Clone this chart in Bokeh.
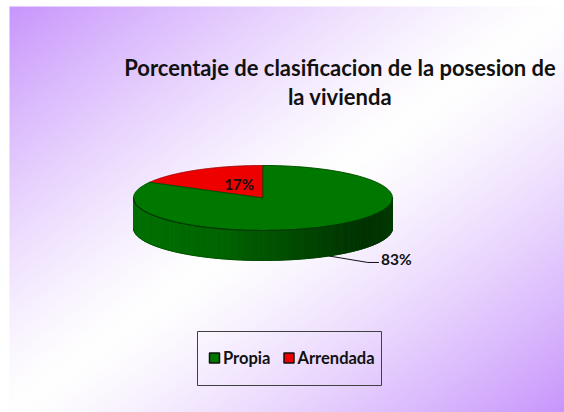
import numpy as np
from bokeh.plotting import figure
from bokeh.models import Range1d
from bokeh.core.properties import value
from bokeh.embed import file_html
from bokeh.resources import INLINE

# ---- data ----
title_lines = ["Porcentaje de clasificacion de la posesion de", "la vivienda"]
categories = ["Propia", "Arrendada"]
percentages = [83, 17]
colors = ["#007800", "#ee0000"]
edge_colors = ["#005000", "#a00000"]

W, H = 564, 412
FONT = value("Lato")

p = figure(width=W, height=H, output_backend="svg", toolbar_location=None,
           x_range=Range1d(0, W), y_range=Range1d(0, H), min_border=0)
p.axis.visible = False
p.grid.visible = False
p.outline_line_color = None
p.background_fill_color = None
p.border_fill_color = "white"

def Y(img_y):
    return H - img_y

# ---- diagonal gradient background (chart area) ----
bx0, by0 = 9, 6
BW, BH = W - bx0, H - by0
xs = np.linspace(0, 1, BW)
ys = np.linspace(0, 1, BH)
GX, GY = np.meshgrid(xs, ys)  # row 0 at bottom
t = (GX + (1 - GY)) / 2
wgt = np.clip(np.abs(t - 0.5) / 0.5, 0, 1) ** 1.3
purple = np.array([200, 150, 252])
r = (255 - wgt * (255 - purple[0])).astype(np.uint32)
g = (255 - wgt * (255 - purple[1])).astype(np.uint32)
b = (255 - wgt * (255 - purple[2])).astype(np.uint32)
img = (255 << 24) | (b << 16) | (g << 8) | r
p.image_rgba(image=[img.astype(np.uint32)], x=bx0, y=0, dw=BW, dh=BH)

# ---- 3D pie ----
cx, cy, ra, rb, depth = 262.5, Y(197.5), 129.5, 32.5, 30.0
total = sum(percentages)
order = [1, 0]  # counterclockwise from top: Arrendada, then Propia
start = 90.0
angles = {}
for i in order:
    span = percentages[i] / total * 360.0
    angles[i] = (start, start + span)
    start += span

def ell(th):
    th = np.radians(th)
    return cx + ra * np.cos(th), cy + rb * np.sin(th)

base = np.array([0, 122, 0])
def shade(u):
    f = np.interp(u, [-1, -0.3, 0.4, 0.8, 1.0], [0.92, 0.82, 0.55, 0.40, 0.48])
    c = (base * f).astype(int)
    return "#%02x%02x%02x" % tuple(c)

wall_x, wall_y, wall_c = [], [], []
for i in order:
    a0, a1 = angles[i]
    ths = np.linspace(a0, a1, 300)
    for k in range(len(ths) - 1):
        m = (ths[k] + ths[k + 1]) / 2
        if np.sin(np.radians(m)) >= 0:
            continue
        x0, y0 = ell(ths[k]); x1, y1 = ell(ths[k + 1])
        wall_x.append([x0, x1, x1, x0])
        wall_y.append([y0, y1, y1 - depth, y0 - depth])
        wall_c.append(shade(np.cos(np.radians(m))))
p.patches(wall_x, wall_y, fill_color=wall_c, line_color=wall_c, line_width=1)

thb = np.linspace(180, 360, 200)
p.line(cx + ra * np.cos(np.radians(thb)), cy + rb * np.sin(np.radians(thb)) - depth,
       line_color="#004000", line_width=1, line_alpha=0.5)

for i in order:
    a0, a1 = angles[i]
    ths = np.linspace(a0, a1, 200)
    px = [cx] + list(cx + ra * np.cos(np.radians(ths))) + [cx]
    py = [cy] + list(cy + rb * np.sin(np.radians(ths))) + [cy]
    p.patch(px, py, fill_color=colors[i], line_color=edge_colors[i], line_width=1)

ths = np.linspace(180, 360, 200)
p.line(cx + ra * np.cos(np.radians(ths)), cy + rb * np.sin(np.radians(ths)),
       line_color="#003800", line_width=1.2)

# ---- data labels ----
a0, a1 = angles[1]
mid = np.radians((a0 + a1) / 2)
p.text(x=[cx + ra * 0.36 * np.cos(mid)], y=[cy + rb * 0.5 * np.sin(mid)],
       text=[f"{percentages[1]}%"], text_font=FONT, text_font_style="bold",
       text_font_size="15px", text_color="#111111", text_align="center", text_baseline="middle")
a0, a1 = angles[0]
mid = np.radians((a0 + a1) / 2)
lx0 = cx + ra * np.cos(mid); ly0 = cy + rb * np.sin(mid) - depth
lx1, ly1 = lx0 + 39, ly0 - 6.5
lx2 = lx1 + 11
p.line([lx0, lx1, lx2], [ly0, ly1, ly1], line_color="#111111", line_width=1)
p.text(x=[lx2 + 2], y=[ly1 + 3.5], text=[f"{percentages[0]}%"], text_font=FONT,
       text_font_style="bold", text_font_size="15.5px", text_color="#111111",
       text_align="left", text_baseline="middle")

# ---- title ----
p.text(x=[339.5, 339.5], y=[Y(67), Y(96)], text=title_lines, text_font=FONT,
       text_font_style="bold", text_font_size="22px", text_color="#111111",
       text_align="center", text_baseline="alphabetic")

# ---- legend ----
p.quad(left=[197], right=[381], bottom=[Y(385)], top=[Y(331)], fill_color=None,
       line_color="#404040", line_width=1)
leg_x = [214, 288.5]
ly = Y(357.5)
for i, cat in enumerate(categories):
    p.rect(x=[leg_x[i]], y=[ly], width=10, height=10, fill_color=colors[i],
           line_color="#111111", line_width=1.5)
    p.text(x=[leg_x[i] + 8.5], y=[ly], text=[cat], text_font=FONT, text_font_style="bold",
           text_font_size="16.5px", text_color="#111111", text_align="left",
           text_baseline="middle")

open("out.html", "w").write(file_html(p, INLINE))
